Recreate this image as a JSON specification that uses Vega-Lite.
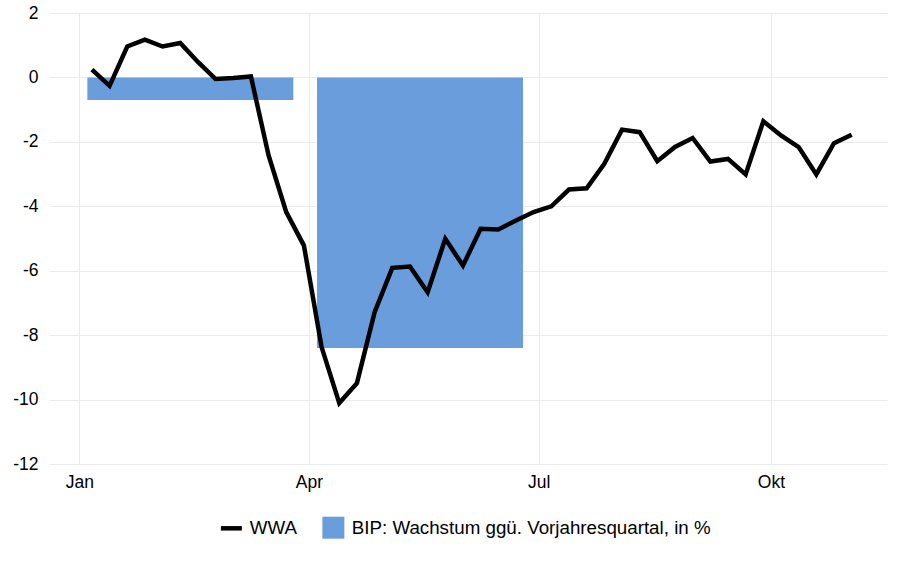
{
  "$schema": "https://vega.github.io/schema/vega-lite/v6.json",
  "width": 838,
  "height": 451,
  "autosize": {"type": "none"},
  "padding": {"left": 49, "top": 13, "right": 13, "bottom": 98},
  "background": "#ffffff",
  "config": {
    "view": {"stroke": null},
    "font": "Liberation Sans",
    "axis": {
      "domain": false,
      "ticks": false,
      "gridColor": "#ebebeb",
      "gridWidth": 1,
      "labelFont": "Liberation Sans",
      "labelFontSize": 17.5,
      "labelColor": "#000000",
      "title": null
    }
  },
  "datasets": {
    "wwa": [
      {"date": "2020-01-06", "value": 0.24, "series": "WWA"},
      {"date": "2020-01-13", "value": -0.26, "series": "WWA"},
      {"date": "2020-01-20", "value": 0.96, "series": "WWA"},
      {"date": "2020-01-27", "value": 1.17, "series": "WWA"},
      {"date": "2020-02-03", "value": 0.96, "series": "WWA"},
      {"date": "2020-02-10", "value": 1.07, "series": "WWA"},
      {"date": "2020-02-17", "value": 0.48, "series": "WWA"},
      {"date": "2020-02-24", "value": -0.05, "series": "WWA"},
      {"date": "2020-03-02", "value": -0.02, "series": "WWA"},
      {"date": "2020-03-09", "value": 0.03, "series": "WWA"},
      {"date": "2020-03-16", "value": -2.42, "series": "WWA"},
      {"date": "2020-03-23", "value": -4.18, "series": "WWA"},
      {"date": "2020-03-30", "value": -5.22, "series": "WWA"},
      {"date": "2020-04-06", "value": -8.37, "series": "WWA"},
      {"date": "2020-04-13", "value": -10.11, "series": "WWA"},
      {"date": "2020-04-20", "value": -9.49, "series": "WWA"},
      {"date": "2020-04-27", "value": -7.29, "series": "WWA"},
      {"date": "2020-05-04", "value": -5.91, "series": "WWA"},
      {"date": "2020-05-11", "value": -5.87, "series": "WWA"},
      {"date": "2020-05-18", "value": -6.67, "series": "WWA"},
      {"date": "2020-05-25", "value": -5.01, "series": "WWA"},
      {"date": "2020-06-01", "value": -5.84, "series": "WWA"},
      {"date": "2020-06-08", "value": -4.70, "series": "WWA"},
      {"date": "2020-06-15", "value": -4.72, "series": "WWA"},
      {"date": "2020-06-22", "value": -4.44, "series": "WWA"},
      {"date": "2020-06-29", "value": -4.18, "series": "WWA"},
      {"date": "2020-07-06", "value": -4.00, "series": "WWA"},
      {"date": "2020-07-13", "value": -3.48, "series": "WWA"},
      {"date": "2020-07-20", "value": -3.44, "series": "WWA"},
      {"date": "2020-07-27", "value": -2.68, "series": "WWA"},
      {"date": "2020-08-03", "value": -1.62, "series": "WWA"},
      {"date": "2020-08-10", "value": -1.70, "series": "WWA"},
      {"date": "2020-08-17", "value": -2.60, "series": "WWA"},
      {"date": "2020-08-24", "value": -2.16, "series": "WWA"},
      {"date": "2020-08-31", "value": -1.88, "series": "WWA"},
      {"date": "2020-09-07", "value": -2.61, "series": "WWA"},
      {"date": "2020-09-14", "value": -2.53, "series": "WWA"},
      {"date": "2020-09-21", "value": -3.01, "series": "WWA"},
      {"date": "2020-09-28", "value": -1.36, "series": "WWA"},
      {"date": "2020-10-05", "value": -1.80, "series": "WWA"},
      {"date": "2020-10-12", "value": -2.16, "series": "WWA"},
      {"date": "2020-10-19", "value": -3.01, "series": "WWA"},
      {"date": "2020-10-26", "value": -2.04, "series": "WWA"},
      {"date": "2020-11-02", "value": -1.78, "series": "WWA"}
    ],
    "bip": [
      {"date": "2020-02-14", "value": -0.7, "series": "BIP: Wachstum ggü. Vorjahresquartal, in %"},
      {"date": "2020-05-15", "value": -8.4, "series": "BIP: Wachstum ggü. Vorjahresquartal, in %"}
    ]
  },
  "layer": [
    {
      "data": {"name": "bip"},
      "mark": {"type": "bar", "width": 206},
      "encoding": {
        "x": {"field": "date", "type": "temporal"},
        "y": {"field": "value", "type": "quantitative"},
        "color": {"field": "series", "type": "nominal"}
      }
    },
    {
      "data": {"name": "wwa"},
      "mark": {"type": "line", "strokeWidth": 4.5, "strokeJoin": "miter"},
      "encoding": {
        "x": {
          "field": "date",
          "type": "temporal",
          "scale": {"domain": [{"year": 2019, "month": 12, "date": 20}, {"year": 2020, "month": 11, "date": 16}], "padding": 0},
          "axis": {
            "values": [
              {"year": 2020, "month": 1, "date": 1},
              {"year": 2020, "month": 4, "date": 1},
              {"year": 2020, "month": 7, "date": 1},
              {"year": 2020, "month": 10, "date": 1}
            ],
            "labelExpr": "['Jan','Feb','Mär','Apr','Mai','Jun','Jul','Aug','Sep','Okt','Nov','Dez'][month(datum.value)]",
            "labelPadding": 9
          }
        },
        "y": {
          "field": "value",
          "type": "quantitative",
          "scale": {"domain": [-12, 2], "nice": false, "zero": false, "padding": 0},
          "axis": {"values": [-12, -10, -8, -6, -4, -2, 0, 2], "labelPadding": 11, "labelExpr": "datum.value + ''"}
        },
        "color": {
          "field": "series",
          "type": "nominal",
          "scale": {
            "domain": ["WWA", "BIP: Wachstum ggü. Vorjahresquartal, in %"],
            "range": ["#000000", "#6a9ddb"]
          },
          "legend": {
            "title": null,
            "orient": "none",
            "legendX": 173,
            "legendY": 505,
            "direction": "horizontal",
            "labelFontSize": 18.75,
            "labelFont": "Liberation Sans",
            "labelColor": "#000000",
            "labelLimit": 0,
            "labelOffset": 9,
            "columnPadding": 25,
            "symbolSize": 484,
            "encode": {
              "symbols": {
                "update": {
                  "shape": {"signal": "datum.value === 'WWA' ? 'stroke' : 'square'"},
                  "size": {"signal": "datum.value === 'WWA' ? 441 : 484"},
                  "strokeWidth": {"signal": "datum.value === 'WWA' ? 4.5 : 0"},
                  "fill": {"signal": "datum.value === 'WWA' ? 'transparent' : '#6a9ddb'"},
                  "stroke": {"value": "#000000"},
                  "opacity": {"value": 1}
                }
              }
            }
          }
        }
      }
    }
  ]
}
